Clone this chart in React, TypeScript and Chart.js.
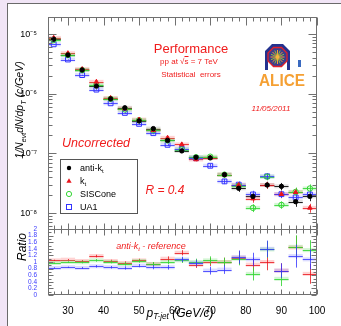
import React, { useEffect, useRef } from "react";
import { Chart, registerables } from "chart.js";
Chart.register(...registerables);

// ---------------- data ----------------
const ptBins = [26, 30, 34, 38, 42, 46, 50, 54, 58, 62, 66, 70, 74, 78, 82, 86, 90, 94, 98];
const binHalfWidth = 2;

const antiKt = [8.2e-6, 4.45e-6, 2.5e-6, 1.34e-6, 8.2e-7, 5.8e-7, 3.5e-7, 2.6e-7, 1.65e-7, 1.1e-7, 8.6e-8, 8.4e-8, 4.4e-8, 2.6e-8, 1.9e-8, 2.95e-8, 2.8e-8, 1.55e-8, 1.9e-8];
const kt = [8.6e-6, 4.76e-6, 2.58e-6, 1.58e-6, 8.45e-7, 5.63e-7, 3.68e-7, 2.44e-7, 1.82e-7, 1.41e-7, 7.9e-8, 8.4e-8, 4.4e-8, 2.94e-8, 1.75e-8, 2.95e-8, 2.07e-8, 2.23e-8, 1.22e-8];
const sisCone = [7.95e-6, 4.45e-6, 2.48e-6, 1.41e-6, 8.2e-7, 5.45e-7, 3.6e-7, 2.44e-7, 1.65e-7, 1.16e-7, 8.6e-8, 8.8e-8, 4.4e-8, 2.86e-8, 1.22e-8, 4.07e-8, 1.37e-8, 2.26e-8, 2.58e-8];
const ua1 = [6.72e-6, 3.74e-6, 2.05e-6, 1.17e-6, 6.9e-7, 4.76e-7, 3.12e-7, 2.18e-7, 1.39e-7, 1.19e-7, 8.3e-8, 6.2e-8, 3.39e-8, 2.99e-8, 2.05e-8, 4.13e-8, 2.07e-8, 1.83e-8, 2.05e-8];
const relErrSpectrum = [0.01, 0.012, 0.015, 0.02, 0.025, 0.03, 0.035, 0.04, 0.05, 0.06, 0.07, 0.07, 0.1, 0.13, 0.15, 0.13, 0.14, 0.18, 0.17];

const ratioKt = [1.05, 1.07, 1.03, 1.18, 1.03, 0.97, 1.05, 0.94, 1.1, 1.28, 0.92, 1.0, 1.0, 1.13, 0.92, 1.0, 0.74, 1.44, 0.64];
const ratioSisCone = [0.97, 1.0, 0.99, 1.05, 1.0, 0.94, 1.03, 0.94, 1.0, 1.05, 1.0, 1.05, 1.0, 1.1, 0.64, 1.38, 0.49, 1.46, 1.36];
const ratioUa1 = [0.82, 0.84, 0.82, 0.87, 0.84, 0.82, 0.89, 0.84, 0.84, 1.08, 0.97, 0.74, 0.77, 1.15, 1.08, 1.4, 0.74, 1.18, 1.08];
const errRatio = [0.02, 0.02, 0.03, 0.04, 0.04, 0.05, 0.05, 0.06, 0.07, 0.08, 0.1, 0.12, 0.13, 0.2, 0.2, 0.25, 0.22, 0.35, 0.3];

const xTicks = [30, 40, 50, 60, 70, 80, 90, 100];
const logTicks = [1e-8, 1e-7, 1e-6, 1e-5];
const logTickLabels = ["10⁻⁸", "10⁻⁷", "10⁻⁶", "10⁻⁵"];
const ratioTicks = [0, 0.2, 0.4, 0.6, 0.8, 1, 1.2, 1.4, 1.6, 1.8, 2];
const ratioTickLabels = ["0", "0.2", "0.4", "0.6", "0.8", "1", "1.2", "1.4", "1.6", "1.8", "2"];

const X_MIN = 24.4, X_MAX = 100;
const Y_MIN = 5.4e-9, Y_MAX = 1.93e-5;

const FONT = "'Liberation Sans', Arial, sans-serif";
const RED_TXT = "#f01c1c";
const C_BLACK = "#000000", C_RED = "#e8141c", C_GREEN = "#33d633", C_BLUE = "#3333ff";

const pts = (vals: number[]) => ptBins.map((x, i) => ({ x, y: vals[i] }));

// -------------- plugins --------------
const errorBars = {
  id: "errorBars",
  beforeDatasetsDraw(chart: any) {
    const { ctx, chartArea } = chart;
    const xs = chart.scales.x;
    chart.data.datasets.forEach((ds: any) => {
      if (!ds.errKind) return;
      const ys = chart.scales[ds.yAxisID];
      ctx.save();
      ctx.beginPath();
      ctx.rect(chartArea.left, ys.top, chartArea.right - chartArea.left, ys.bottom - ys.top);
      ctx.clip();
      ds.data.forEach((p: any, i: number) => {
        const px = Math.round(xs.getPixelForValue(p.x)) + 0.5;
        const x0 = xs.getPixelForValue(p.x - binHalfWidth);
        const x1 = xs.getPixelForValue(p.x + binHalfWidth);
        const py = ys.getPixelForValue(p.y);
        const e = ds.errValues[i];
        const lo = ds.errKind === "rel" ? p.y * (1 - e) : p.y - e;
        const hi = ds.errKind === "rel" ? p.y * (1 + e) : p.y + e;
        ctx.fillStyle = ds.bandColor;
        ctx.fillRect(x0, py - 2, x1 - x0, 4);
        ctx.strokeStyle = ds.errColor;
        ctx.lineWidth = 1;
        ctx.beginPath();
        const pyr = Math.round(py) + 0.5;
        ctx.moveTo(x0, pyr);
        ctx.lineTo(x1, pyr);
        ctx.moveTo(px, ys.getPixelForValue(lo));
        ctx.lineTo(px, ys.getPixelForValue(hi));
        ctx.stroke();
      });
      ctx.restore();
    });
  },
};

const rootFrame = {
  id: "rootFrame",
  afterDraw(chart: any) {
    const { ctx } = chart;
    const xs = chart.scales.x, ys = chart.scales.y, rs = chart.scales.r;
    const L = Math.round(xs.left) + 0.5, R = Math.round(xs.right) - 0.5;
    ctx.save();
    ctx.strokeStyle = "#707070";
    ctx.lineWidth = 1;
    const yT = Math.round(ys.top) + 0.5, yB = Math.round(ys.bottom) + 0.5;
    const rT = Math.round(rs.top) + 0.5, rB = Math.round(rs.bottom) - 0.5;
    ctx.strokeRect(L, yT, R - L, yB - yT);
    ctx.strokeRect(L, rT, R - L, rB - rT);
    ctx.beginPath();
    for (let v = 26; v <= X_MAX + 0.01; v += 2) {
      const px = Math.round(xs.getPixelForValue(v)) + 0.5;
      const major = v % 10 === 0;
      ctx.moveTo(px, yT); ctx.lineTo(px, yT + (major ? 8 : 4));
      ctx.moveTo(px, yB); ctx.lineTo(px, yB - (major ? 6 : 4));
      ctx.moveTo(px, rT); ctx.lineTo(px, rT + (major ? 6 : 4));
      ctx.moveTo(px, rB); ctx.lineTo(px, rB - (major ? 5 : 3));
    }
    for (let d = -9; d <= -5; d++) {
      for (let m = 1; m <= 9; m++) {
        const v = m * Math.pow(10, d);
        if (v < Y_MIN || v > Y_MAX) continue;
        const py = Math.round(ys.getPixelForValue(v)) + 0.5;
        const a = m === 1 ? 8 : 4;
        ctx.moveTo(L, py); ctx.lineTo(L + a, py);
        ctx.moveTo(R, py); ctx.lineTo(R - a, py);
      }
    }
    for (let k = 0; k <= 20; k++) {
      const v = k / 10;
      const py = Math.round(rs.getPixelForValue(v)) + 0.5;
      const a = k % 2 === 0 ? 5 : 3;
      ctx.moveTo(L, py); ctx.lineTo(L + a, py);
      ctx.moveTo(R, py); ctx.lineTo(R - a, py);
    }
    ctx.stroke();
    ctx.restore();
  },
};

// -------------- component --------------
function LegendMarker({ kind }: { kind: string }) {
  return (
    <svg width="10" height="10" style={{ display: "block" }}>
      {kind === "dot" && <circle cx="5" cy="5" r="2.2" fill={C_BLACK} />}
      {kind === "tri" && <polygon points="5,2.3 7.6,6.8 2.4,6.8" fill={C_RED} />}
      {kind === "circ" && <circle cx="5" cy="5" r="2.6" fill="none" stroke={C_GREEN} strokeWidth="1" />}
      {kind === "sq" && <rect x="2.5" y="2.5" width="5" height="5" fill="none" stroke={C_BLUE} strokeWidth="1" />}
    </svg>
  );
}

export default function App() {
  const canvasRef = useRef<HTMLCanvasElement | null>(null);

  useEffect(() => {
    const canvas = canvasRef.current;
    if (!canvas) return;
    const mk = (label: string, data: any, axis: string, style: string, color: string, filled: boolean, radius: number, errKind: string, errValues: number[], band: string, errColor: string) => ({
      label, data, yAxisID: axis, xAxisID: "x", showLine: false, type: "scatter",
      pointStyle: style, pointRadius: radius, pointBorderWidth: 1,
      pointBackgroundColor: filled ? color : "rgba(0,0,0,0)", pointBorderColor: color,
      backgroundColor: color, borderColor: color,
      errKind, errValues, bandColor: band, errColor,
    });
    const chart = new Chart(canvas, {
      type: "scatter",
      data: {
        datasets: [
          mk("anti-kt", pts(antiKt), "y", "circle", C_BLACK, true, 2.2, "rel", relErrSpectrum, "rgba(0,0,0,0.12)", "rgba(0,0,0,0.85)"),
          mk("kt", pts(kt), "y", "triangle", C_RED, true, 2.6, "rel", relErrSpectrum, "rgba(255,80,80,0.25)", "rgba(232,20,28,0.8)"),
          mk("SISCone", pts(sisCone), "y", "circle", C_GREEN, false, 2.7, "rel", relErrSpectrum, "rgba(80,220,80,0.25)", "rgba(51,214,51,0.85)"),
          mk("UA1", pts(ua1), "y", "rect", C_BLUE, false, 3.4, "rel", relErrSpectrum, "rgba(80,80,255,0.2)", "rgba(51,51,255,0.8)"),
          {
            label: "reference", type: "line", yAxisID: "r", xAxisID: "x",
            data: [{ x: X_MIN, y: 1 }, { x: X_MAX, y: 1 }],
            borderColor: "#000", borderWidth: 2, borderDash: [2, 2], pointRadius: 0, showLine: true,
          } as any,
          mk("kt/anti-kt", pts(ratioKt), "r", "triangle", C_RED, true, 2.6, "abs", errRatio, "rgba(255,80,80,0.25)", "rgba(232,20,28,0.8)"),
          mk("SISCone/anti-kt", pts(ratioSisCone), "r", "circle", C_GREEN, false, 2.7, "abs", errRatio, "rgba(80,220,80,0.25)", "rgba(51,214,51,0.85)"),
          mk("UA1/anti-kt", pts(ratioUa1), "r", "rect", C_BLUE, false, 3.4, "abs", errRatio, "rgba(80,80,255,0.2)", "rgba(51,51,255,0.8)"),
        ] as any,
      },
      options: {
        animation: false,
        responsive: false,
        devicePixelRatio: 1,
        layout: { padding: { left: 0, right: 24, top: 17, bottom: 0 } },
        plugins: { legend: { display: false }, tooltip: { enabled: false } },
        scales: {
          x: {
            type: "linear", position: "bottom", min: X_MIN, max: X_MAX,
            grid: { display: false }, border: { display: false },
            afterBuildTicks: (s: any) => { s.ticks = xTicks.map((v) => ({ value: v })); },
            afterFit: (s: any) => { s.height = 31; },
            ticks: { autoSkip: false, maxRotation: 0, padding: 2, color: "#000", font: { family: FONT, size: 10 }, callback: (v: any) => String(v) },
          },
          r: {
            type: "linear", position: "left", stack: "v", stackWeight: 66, min: 0, max: 2,
            grid: { display: false }, border: { display: false },
            afterBuildTicks: (s: any) => { s.ticks = ratioTicks.map((v) => ({ value: v })); },
            afterFit: (s: any) => { s.width = 48; },
            ticks: { autoSkip: false, padding: 3, color: "#3b3bff", font: { family: FONT, size: 6.5 }, callback: (_v: any, i: number) => ratioTickLabels[i] },
          },
          y: {
            type: "logarithmic", position: "left", stack: "v", stackWeight: 212, min: Y_MIN, max: Y_MAX,
            grid: { display: false }, border: { display: false },
            afterBuildTicks: (s: any) => { s.ticks = logTicks.map((v) => ({ value: v })); },
            afterFit: (s: any) => { s.width = 48; },
            ticks: { autoSkip: false, padding: 3, color: "#000", font: { family: FONT, size: 9 }, callback: (_v: any, i: number) => logTickLabels[i] },
          },
        } as any,
      },
      plugins: [errorBars, rootFrame],
    } as any);
    return () => chart.destroy();
  }, []);

  const abs = (x: number, y: number, extra: any = {}) => ({
    position: "absolute" as const, left: x, top: y, transform: "translate(-50%,-50%)", whiteSpace: "nowrap" as const,
    fontFamily: FONT, lineHeight: 1, ...extra,
  });
  const sub = { fontSize: "0.68em", verticalAlign: "-0.3em" };

  return (
    <div style={{ position: "fixed", left: 0, top: 0, width: 341, height: 326, background: "#f1e5f6", overflow: "hidden" }}>
      <div style={{ position: "absolute", left: 7, top: 3, width: 340, height: 330, background: "#ffffff", border: "1px solid #6a6a6a" }} />
      <canvas ref={canvasRef} width={341} height={326} style={{ position: "absolute", left: 0, top: 0, display: "block" }} />

      {/* axis titles */}
      <div style={abs(21, 110, { fontSize: 10.5, fontStyle: "italic", transform: "translate(-50%,-50%) rotate(-90deg)", color: "#000" })}>
        1/N<span style={sub}>evt</span>dN/dp<span style={sub}>T</span> (c/GeV)
      </div>
      <div style={abs(22, 247, { fontSize: 12, fontStyle: "italic", transform: "translate(-50%,-50%) rotate(-90deg)", color: "#000" })}>Ratio</div>
      <div style={abs(180, 314, { fontSize: 12, fontStyle: "italic", color: "#000" })}>
        p<span style={sub}>T-jet</span> (GeV/c)
      </div>

      {/* annotations */}
      <div style={abs(191, 48, { fontSize: 13, color: RED_TXT })}>Performance</div>
      <div style={abs(189, 62, { fontSize: 8, color: RED_TXT })}>
        pp at √<span style={{ textDecoration: "overline" }}>s</span> = 7 TeV
      </div>
      <div style={abs(191, 75, { fontSize: 8, color: RED_TXT })}>Statistical&nbsp; errors</div>
      <div style={abs(271, 109, { fontSize: 8, fontStyle: "italic", color: RED_TXT })}>11/05/2011</div>
      <div style={abs(96, 143, { fontSize: 12.5, fontStyle: "italic", color: RED_TXT })}>Uncorrected</div>
      <div style={abs(165, 190, { fontSize: 12, fontStyle: "italic", color: RED_TXT })}>R = 0.4</div>
      <div style={abs(151, 247, { fontSize: 9, fontStyle: "italic", color: RED_TXT })}>
        anti-k<span style={sub}>t</span> - reference
      </div>

      {/* legend */}
      <div style={{ position: "absolute", left: 60, top: 159, width: 76, height: 53, border: "1px solid #555", background: "#fff", fontFamily: FONT, fontSize: 9, color: "#000" }}>
        {[
          { k: "dot", t: <span>anti-k<span style={sub}>t</span></span> },
          { k: "tri", t: <span>k<span style={sub}>t</span></span> },
          { k: "circ", t: <span>SISCone</span> },
          { k: "sq", t: <span>UA1</span> },
        ].map((row, i) => (
          <div key={i} style={{ position: "absolute", left: 3, top: 3 + i * 13, height: 10, display: "flex", alignItems: "center", whiteSpace: "nowrap" }}>
            <LegendMarker kind={row.k} />
            <span style={{ marginLeft: 6 }}>{row.t}</span>
          </div>
        ))}
      </div>

      {/* ALICE logo */}
      <svg width={341} height={326} style={{ position: "absolute", left: 0, top: 0, pointerEvents: "none" }}>
        <path d="M265,70 L265,51 L272,44 L283,44 L290,51 L290,70 L287,70 L287,53 L281.5,47.5 L273.5,47.5 L268,53 L268,70 Z" fill="#24328f" />
        <polygon points="273.5,47.5 281.5,47.5 287,53 287,61 281.5,66.5 273.5,66.5 268,61 268,53" fill="#3b3d8c" stroke="#e3202a" strokeWidth="1.3" />
        {Array.from({ length: 16 }).map((_, k) => {
          const a = (k * Math.PI) / 8;
          return <line key={k} x1={277.5} y1={57} x2={277.5 + 7 * Math.cos(a)} y2={57 + 7 * Math.sin(a)} stroke={k % 2 ? "#8fbf3a" : "#f5a033"} strokeWidth="1" />;
        })}
        <circle cx={277.5} cy={57} r={2} fill="#f7b040" />
        <rect x={298} y={60} width={3} height={7} fill="#3a6ac0" />
        <text x={282} y={86} fontFamily={FONT} fontWeight="bold" fontSize="17" fill="#f5a033" textAnchor="middle" textLength="46" lengthAdjust="spacingAndGlyphs">ALICE</text>
      </svg>
    </div>
  );
}
